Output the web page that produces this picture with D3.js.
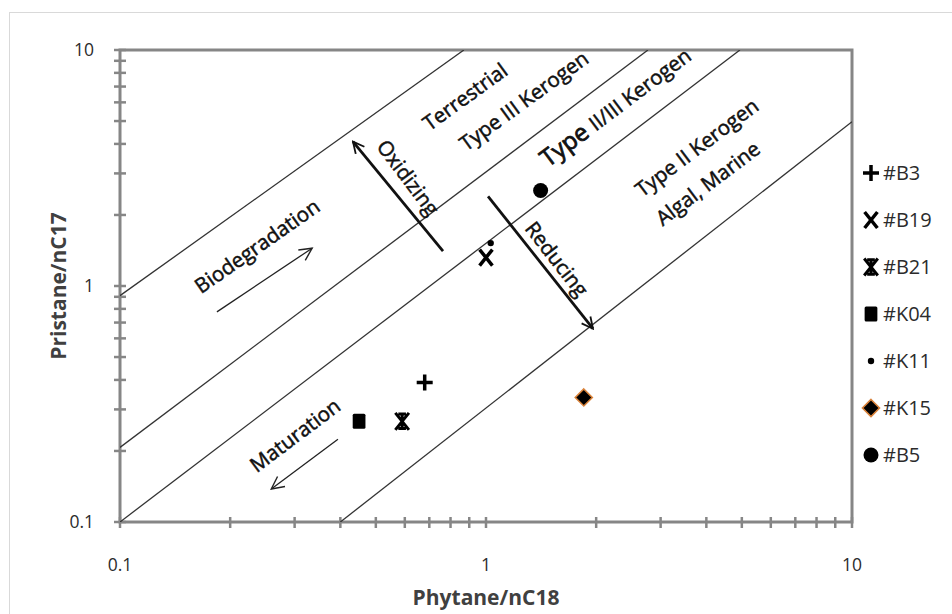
<!DOCTYPE html>
<html>
<head>
<meta charset="utf-8">
<script src="https://cdnjs.cloudflare.com/ajax/libs/d3/7.8.5/d3.min.js"></script>
<style>
  body { margin: 0; background: #fff; }
  text { font-family: "Open Sans", "Noto Sans", sans-serif; }
</style>
</head>
<body>
<div id="chart"></div>
<script>
var svgWidth = 952;
var svgHeight = 614;

// plot margins
var margin = { top: 50, right: 100, bottom: 92, left: 120 };
var chartWidth = svgWidth - margin.left - margin.right;
var chartHeight = svgHeight - margin.top - margin.bottom;

// samples: Phytane/nC18 (x) vs Pristane/nC17 (y)
var sampleNames = ["#B3", "#B19", "#B21", "#K04", "#K11", "#K15", "#B5"];
var sampleShapes = ["plus", "x", "star", "square", "dot", "diamond", "circle"];
var phytane = [0.68, 1.0, 0.59, 0.45, 1.03, 1.85, 1.41];
var pristane = [0.39, 1.32, 0.267, 0.267, 1.52, 0.337, 2.54];

// field boundaries [x1, y1, x2, y2]
var boundaries = [
  [0.1, 0.91, 0.87, 10],
  [0.1, 0.207, 2.77, 10],
  [0.1, 0.1, 4.94, 10],
  [0.40, 0.1, 10, 4.97]
];

// arrows [x1, y1, x2, y2, heavy]
var arrows = [
  [0.763, 1.405, 0.433, 4.09, true],
  [1.013, 2.40, 1.96, 0.659, true],
  [0.184, 0.777, 0.335, 1.446, false],
  [0.394, 0.224, 0.259, 0.138, false]
];

// annotation labels
var labelText = ["Biodegradation", "Maturation", "Terrestrial", "Type III Kerogen",
  "Type II Kerogen", "Algal, Marine", "Oxidizing", "Reducing"];
var labelX = [0.237, 0.301, 0.877, 1.27, 3.77, 4.04, 0.612, 1.56];
var labelY = [1.475, 0.233, 6.34, 6.09, 3.86, 2.72, 2.88, 1.30];
var labelAngle = [-35, -37, -36, -36, -37, -37, 53, 52];

var ticks = [0.1, 1, 10];
var tickLabels = ["0.1", "1", "10"];

var svg = d3.select("#chart")
  .append("svg")
  .attr("width", svgWidth)
  .attr("height", svgHeight);

// outer chart border
svg.append("rect")
  .attr("x", 9.5).attr("y", 12.5)
  .attr("width", 1000).attr("height", 1000)
  .attr("fill", "none")
  .attr("stroke", "#d9d9d9");

var chartGroup = svg.append("g")
  .attr("transform", `translate(${margin.left}, ${margin.top})`);

var xScale = d3.scaleLog().domain([0.1, 10]).range([0, chartWidth]);
var yScale = d3.scaleLog().domain([0.1, 10]).range([chartHeight, 0]);

// minor tick values 0.1..10
var minorTicks = [];
[0.1, 1].forEach(function(dec) {
  for (var i = 1; i <= 9; i++) minorTicks.push(+(dec * i).toPrecision(3));
});
minorTicks.push(10);

var axisColor = "#868686";

// plot frame
chartGroup.append("rect")
  .attr("width", chartWidth).attr("height", chartHeight)
  .attr("fill", "none")
  .attr("stroke", axisColor)
  .attr("stroke-width", 3);

// crossing ticks
chartGroup.selectAll(".ytick")
  .data(minorTicks)
  .enter().append("line")
  .attr("x1", -6).attr("x2", 6)
  .attr("y1", d => yScale(d)).attr("y2", d => yScale(d))
  .attr("stroke", axisColor).attr("stroke-width", 2.5);

chartGroup.selectAll(".xtick")
  .data(minorTicks)
  .enter().append("line")
  .attr("y1", chartHeight - 5).attr("y2", chartHeight + 6)
  .attr("x1", d => xScale(d)).attr("x2", d => xScale(d))
  .attr("stroke", axisColor).attr("stroke-width", 2.5);

// tick labels
chartGroup.selectAll(".ylab")
  .data(ticks)
  .enter().append("text")
  .attr("x", -26)
  .attr("y", d => yScale(d) + 6)
  .attr("text-anchor", "end")
  .attr("font-size", 17.5)
  .attr("fill", "#2b2b2b")
  .text((d, i) => tickLabels[i]);

chartGroup.selectAll(".xlab")
  .data(ticks)
  .enter().append("text")
  .attr("x", d => xScale(d))
  .attr("y", chartHeight + 49)
  .attr("text-anchor", "middle")
  .attr("font-size", 17.5)
  .attr("fill", "#2b2b2b")
  .text((d, i) => tickLabels[i]);

// axis titles
chartGroup.append("text")
  .attr("x", chartWidth / 2)
  .attr("y", chartHeight + 83)
  .attr("text-anchor", "middle")
  .attr("font-size", 21)
  .attr("font-weight", "bold")
  .attr("fill", "#404040")
  .text("Phytane/nC18");

chartGroup.append("text")
  .attr("transform", "rotate(-90)")
  .attr("x", -chartHeight / 2)
  .attr("y", -54)
  .attr("text-anchor", "middle")
  .attr("font-size", 21)
  .attr("font-weight", "bold")
  .attr("fill", "#404040")
  .text("Pristane/nC17");

// clip for boundaries
chartGroup.append("clipPath").attr("id", "plotClip")
  .append("rect").attr("width", chartWidth).attr("height", chartHeight);

chartGroup.append("g")
  .attr("clip-path", "url(#plotClip)")
  .selectAll("line")
  .data(boundaries)
  .enter().append("line")
  .attr("x1", d => xScale(d[0])).attr("y1", d => yScale(d[1]))
  .attr("x2", d => xScale(d[2])).attr("y2", d => yScale(d[3]))
  .attr("stroke", "#333")
  .attr("stroke-width", 1.3);

// arrow heads
var defs = svg.append("defs");
defs.append("marker")
  .attr("id", "headHeavy")
  .attr("viewBox", "0 0 10 10")
  .attr("refX", 9).attr("refY", 5)
  .attr("markerWidth", 5).attr("markerHeight", 5)
  .attr("markerUnits", "strokeWidth")
  .attr("orient", "auto")
  .append("path")
  .attr("d", "M1,1 L9,5 L1,9")
  .attr("fill", "none").attr("stroke", "#111").attr("stroke-width", 1.3);

defs.append("marker")
  .attr("id", "headLight")
  .attr("viewBox", "0 0 10 10")
  .attr("refX", 9).attr("refY", 5)
  .attr("markerWidth", 12).attr("markerHeight", 12)
  .attr("markerUnits", "strokeWidth")
  .attr("orient", "auto")
  .append("path")
  .attr("d", "M1,1 L9,5 L1,9")
  .attr("fill", "none").attr("stroke", "#222").attr("stroke-width", 0.9);

chartGroup.selectAll(".arrow")
  .data(arrows)
  .enter().append("line")
  .attr("x1", d => xScale(d[0])).attr("y1", d => yScale(d[1]))
  .attr("x2", d => xScale(d[2])).attr("y2", d => yScale(d[3]))
  .attr("stroke", d => d[4] ? "#111" : "#222")
  .attr("stroke-width", d => d[4] ? 2.8 : 1.3)
  .attr("marker-end", d => d[4] ? "url(#headHeavy)" : "url(#headLight)");

// annotations
chartGroup.selectAll(".note")
  .data(labelText)
  .enter().append("text")
  .attr("transform", (d, i) => `translate(${xScale(labelX[i])}, ${yScale(labelY[i])}) rotate(${labelAngle[i]})`)
  .attr("text-anchor", "middle")
  .attr("dy", "0.35em")
  .attr("font-size", 20.5)
  .attr("fill", "#111")
  .attr("stroke", "#111")
  .attr("stroke-width", 0.5)
  .text(d => d);

// Type II/III label with larger "Type"
var mixed = chartGroup.append("text")
  .attr("transform", `translate(${xScale(2.28)}, ${yScale(5.64)}) rotate(-37)`)
  .attr("text-anchor", "middle")
  .attr("dy", "0.35em")
  .attr("fill", "#111")
  .attr("stroke", "#111")
  .attr("stroke-width", 0.5);
mixed.append("tspan").attr("font-size", 24).attr("stroke-width", 0.8).text("Type ");
mixed.append("tspan").attr("font-size", 20.5).text("II/III Kerogen");

// marker drawing
function drawMarker(g, shape, s) {
  if (shape === "plus") {
    g.append("path").attr("d", `M${-s},0H${s}M0,${-s}V${s}`)
      .attr("stroke", "#000").attr("stroke-width", 3.5);
  } else if (shape === "x") {
    g.append("path").attr("d", `M${-s * 0.8},${-s}L${s * 0.8},${s}M${s * 0.8},${-s}L${-s * 0.8},${s}`)
      .attr("stroke", "#000").attr("stroke-width", 3.5);
  } else if (shape === "star") {
    g.append("path").attr("d", `M${-s * 0.8},${-s}L${s * 0.8},${s}M${s * 0.8},${-s}L${-s * 0.8},${s}M0,${-s}V${s}M${-s * 0.45},${-s * 0.85}H${s * 0.45}M${-s * 0.45},${s * 0.85}H${s * 0.45}`)
      .attr("stroke", "#000").attr("stroke-width", 3);
  } else if (shape === "square") {
    g.append("rect").attr("x", -s * 0.85).attr("y", -s).attr("width", s * 1.7).attr("height", s * 2)
      .attr("rx", 1.5).attr("fill", "#000");
  } else if (shape === "dot") {
    g.append("circle").attr("r", s * 0.4).attr("fill", "#000");
  } else if (shape === "diamond") {
    g.append("path").attr("d", `M0,${-s}L${s},0L0,${s}L${-s},0Z`)
      .attr("fill", "#000").attr("stroke", "#d9823a").attr("stroke-width", 1.6);
  } else if (shape === "circle") {
    g.append("circle").attr("r", s).attr("fill", "#000");
  }
}

var markerSize = [8, 8, 8.5, 7.5, 8, 8.5, 7.5];

// points
chartGroup.selectAll(".pt")
  .data(phytane)
  .enter().append("g")
  .attr("transform", (d, i) => `translate(${xScale(d)}, ${yScale(pristane[i])})`)
  .each(function(d, i) { drawMarker(d3.select(this), sampleShapes[i], markerSize[i]); });

// legend
var legend = svg.append("g").attr("transform", "translate(871, 173)");
sampleNames.forEach(function(name, i) {
  var row = legend.append("g").attr("transform", `translate(0, ${i * 47})`);
  drawMarker(row, sampleShapes[i], markerSize[i]);
  row.append("text")
    .attr("x", 12).attr("y", 7)
    .attr("font-size", 20)
    .attr("fill", "#2b2b2b")
    .text(name);
});
</script>
</body>
</html>
